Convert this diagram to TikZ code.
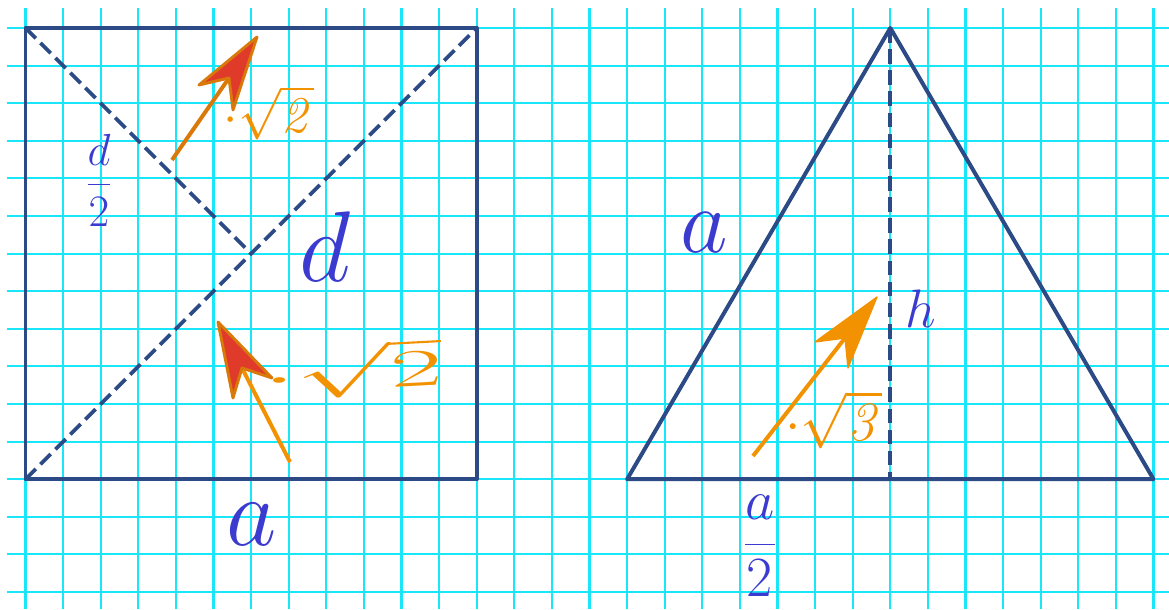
\RequirePackage{fix-cm}
\documentclass[tikz,border=0pt]{standalone}
\usepackage{graphicx}
\definecolor{gridc}{HTML}{1AE6FA}
\definecolor{edgec}{HTML}{2B4A86}
\definecolor{lblc}{HTML}{3B3BCF}
\definecolor{orng}{HTML}{F39200}
\definecolor{dorng}{HTML}{D9790A}
\definecolor{redf}{HTML}{E03B2A}
\newcommand\myfs[1]{\fontsize{#1}{#1}\selectfont}
\begin{document}
\begin{tikzpicture}[x=0.0265957cm,y=-0.0265957cm,
  gridline/.style={gridc, line width=1.6pt},
  edge/.style={edgec, line width=3pt, line join=round, line cap=round},
  dashedge/.style={edgec, line width=2.9pt, dash pattern=on 11pt off 5pt},
  lab/.style={text=lblc, inner sep=0pt},
  olab/.style={text=orng, inner sep=0pt},
  shaftd/.style={dorng, line width=3pt},
  shafto/.style={orng, line width=3pt},
  headred/.style={fill=redf, draw=dorng, line width=2.2pt, line join=round},
  heador/.style={fill=orng, draw=orng, line width=1pt, line join=round}]
\useasboundingbox (0,0) rectangle (1169,609);
\fill[white] (0,0) rectangle (1169,609);
% grid
\foreach \k in {0,...,30} \draw[gridline] ({25.5+37.6*\k},8) -- ({25.5+37.6*\k},609);
\foreach \k in {0,...,15} \draw[gridline] (7,{28+37.6*\k}) -- (1169,{28+37.6*\k});
% square
\coordinate (A) at (25.5,479.2);
\coordinate (B) at (476.7,479.2);
\coordinate (C) at (476.7,28);
\coordinate (D) at (25.5,28);
\coordinate (O) at (251.1,253.6);
\draw[dashedge] (A) -- (C);
\draw[dashedge] (D) -- (O);
\draw[edge] (A) -- (B) -- (C) -- (D) -- cycle;
% triangle
\coordinate (P) at (627.1,479.2);
\coordinate (Q) at (1153.5,479.2);
\coordinate (R) at (890.3,28);
\coordinate (H) at (890.3,479.2);
\draw[dashedge] (R) -- (H);
\draw[edge] (P) -- (Q) -- (R) -- cycle;
% labels
\node[lab, font=\myfs{34pt}] (dhalf) at (99,180) {$\displaystyle\frac{d}{2}$};
\node[lab, font=\myfs{76pt}] (dl) at (325,247) {$d$};
\node[lab, font=\myfs{74pt}] (al) at (252,524) {$a$};
\node[lab, font=\myfs{70pt}] (at) at (704,233) {$a$};
\node[lab, font=\myfs{41pt}] (hl) at (921,309) {$h$};
\node[lab, font=\myfs{43pt}] (ahalf) at (760,546) {$\displaystyle\frac{a}{2}$};
% arrow 1 (top)
\coordinate (S1) at (172,160);
\coordinate (N1) at (229,78);
\coordinate (T1) at (257,37);
\coordinate (L1) at (199,85);
\coordinate (R1) at (233,110);
\draw[shaftd] (S1) -- (N1);
\draw[headred] (T1) -- (L1) -- (N1) -- (R1) -- cycle;
\node[olab, font=\myfs{39pt}] (r2a) at (269,113) {$\cdot\sqrt{\mathit{2}}$};
% arrow 2 (middle)
\coordinate (S2) at (290,462);
\coordinate (N2) at (242,368);
\coordinate (T2) at (218,322);
\coordinate (L2) at (233,398);
\coordinate (R2) at (272,378);
\draw[shafto] (S2) -- (N2);
\draw[headred] (T2) -- (L2) -- (N2) -- (R2) -- cycle;
\node[olab, font=\myfs{40pt}, rotate=3] (r2b) at (353,370) {\scalebox{2.15}[1]{$\cdot\sqrt{2}$}};
% arrow 3 (triangle)
\coordinate (S3) at (753,456);
\coordinate (N3) at (845,338);
\coordinate (T3) at (877,297);
\coordinate (L3) at (815,342);
\coordinate (R3) at (848,368);
\draw[shafto] (S3) -- (N3);
\draw[heador] (T3) -- (L3) -- (N3) -- (R3) -- cycle;
\node[olab, font=\myfs{42pt}] (r3) at (834,420) {$\cdot\sqrt{\mathit{3}}$};
\end{tikzpicture}
\end{document}
